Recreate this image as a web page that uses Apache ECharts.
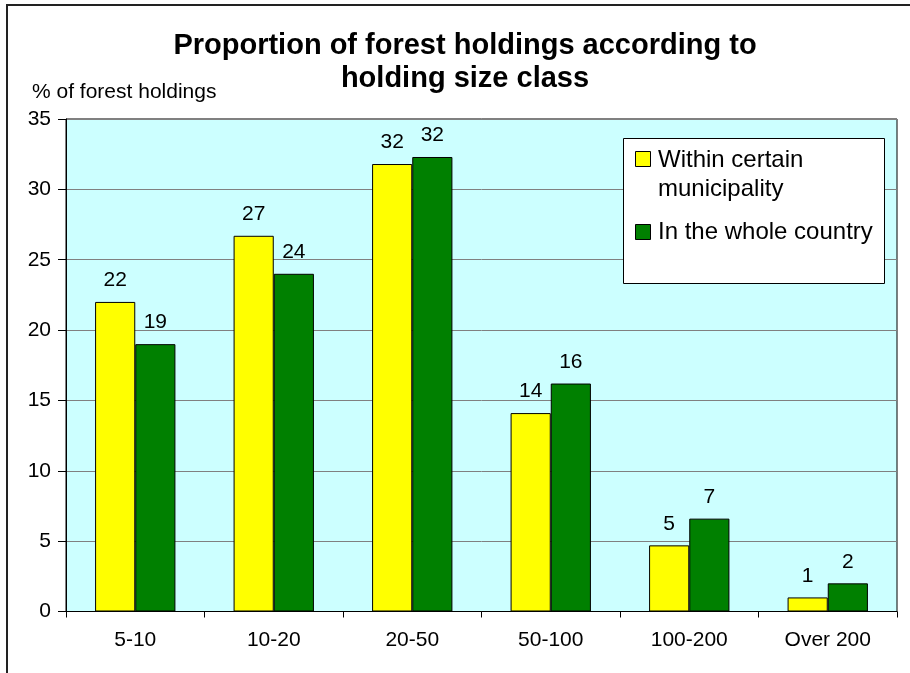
<!DOCTYPE html>
<html>
<head>
<meta charset="utf-8">
<script src="https://cdn.jsdelivr.net/npm/echarts@6/dist/echarts.min.js"></script>
<style>
html,body{margin:0;padding:0;background:#fff;}
#chart{width:910px;height:673px;}
</style>
</head>
<body>
<div id="chart"></div>
<script>
const categories = ['5-10', '10-20', '20-50', '50-100', '100-200', 'Over 200'];
const withinMunicipality = [22.0, 26.7, 31.8, 14.1, 4.7, 1.0];
const wholeCountry = [19.0, 24.0, 32.3, 16.2, 6.6, 2.0];
const seriesNames = ['Within certain municipality', 'In the whole country'];
const yTicks = [0, 5, 10, 15, 20, 25, 30, 35];

const FONT = "'Liberation Sans', Arial, sans-serif";
const chart = echarts.init(document.getElementById('chart'), null, {renderer: 'canvas'});

const labelOpt = {
  show: true,
  position: 'top',
  distance: 11,
  color: '#000',
  fontFamily: FONT,
  fontSize: 21,
  formatter: p => String(Math.round(p.value))
};

const option = {
  backgroundColor: '#fff',
  animation: false,
  title: [
    {
      text: 'Proportion of forest holdings according to\nholding size class',
      left: 465,
      top: 29,
      padding: 0,
      textAlign: 'center',
      textStyle: {fontFamily: FONT, fontSize: 29, fontWeight: 'bold', lineHeight: 33, color: '#000'}
    },
    {
      text: '% of forest holdings',
      left: 32,
      top: 82,
      padding: 0,
      textStyle: {fontFamily: FONT, fontSize: 21, fontWeight: 'normal', lineHeight: 21, color: '#000'}
    }
  ],
  legend: {show: false, data: seriesNames},
  grid: {
    left: 66, right: 13, top: 119, height: 492.5,
    show: true, backgroundColor: '#CCFFFF', borderColor: '#000', borderWidth: 1,
    containLabel: false
  },
  xAxis: {
    type: 'category',
    data: categories,
    boundaryGap: true,
    axisLine: {show: true, lineStyle: {color: '#000', width: 1}},
    axisTick: {show: true, length: 6, alignWithLabel: false, lineStyle: {color: '#000'}},
    axisLabel: {color: '#000', fontFamily: FONT, fontSize: 21, margin: 18},
    splitLine: {show: false}
  },
  yAxis: {
    type: 'value',
    min: yTicks[0], max: yTicks[yTicks.length - 1], interval: 5,
    axisLine: {show: true, lineStyle: {color: '#000', width: 1}},
    axisTick: {show: true, length: 8, lineStyle: {color: '#000'}},
    axisLabel: {color: '#000', fontFamily: FONT, fontSize: 21, margin: 15},
    splitLine: {show: true, lineStyle: {color: '#808080', width: 1}}
  },
  series: [
    {
      name: seriesNames[0], type: 'bar', data: withinMunicipality,
      barCategoryGap: '42%', barGap: '0%',
      itemStyle: {color: '#FFFF00', borderColor: '#000', borderWidth: 1},
      label: labelOpt
    },
    {
      name: seriesNames[1], type: 'bar', data: wholeCountry,
      barCategoryGap: '42%', barGap: '0%',
      itemStyle: {color: '#008000', borderColor: '#000', borderWidth: 1},
      label: labelOpt
    }
  ],
  graphic: [
    {type: 'rect', silent: true, z: 100, shape: {x: 7, y: 5, width: 1200, height: 1200},
     style: {fill: 'none', stroke: '#222', lineWidth: 2}},
    {type: 'rect', z: 100, shape: {x: 623.5, y: 138.5, width: 261, height: 145},
     style: {fill: '#fff', stroke: '#000', lineWidth: 1}},
    {type: 'rect', z: 101, shape: {x: 635.5, y: 151.5, width: 15, height: 15},
     style: {fill: '#FFFF00', stroke: '#000', lineWidth: 1}},
    {type: 'rect', z: 101, shape: {x: 635.5, y: 224.5, width: 15, height: 15},
     style: {fill: '#008000', stroke: '#000', lineWidth: 1}},
    {type: 'text', z: 101, x: 658, y: 160,
     style: {text: 'Within certain', font: '24px ' + FONT, fill: '#000', verticalAlign: 'middle'}},
    {type: 'text', z: 101, x: 658, y: 189,
     style: {text: 'municipality', font: '24px ' + FONT, fill: '#000', verticalAlign: 'middle'}},
    {type: 'text', z: 101, x: 658, y: 232,
     style: {text: 'In the whole country', font: '24px ' + FONT, fill: '#000', verticalAlign: 'middle'}}
  ]
};
chart.setOption(option);
</script>
</body>
</html>
